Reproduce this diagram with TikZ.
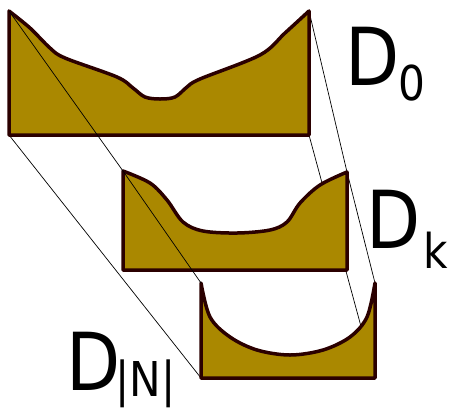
\documentclass[tikz,border=0pt]{standalone}
\usepackage{fontspec}
\newfontfamily\lblfont{DejaVu Sans}[FakeStretch=0.88]
\definecolor{slabfill}{HTML}{AA8800}
\definecolor{slabline}{HTML}{2B0000}
\begin{document}
\begin{tikzpicture}[x=1pt,y=-1pt,
  slab/.style={fill=slabfill, draw=slabline, line width=3.5pt, line join=round},
  guide/.style={draw=black, line width=0.7pt},
  biglbl/.style={inner sep=0pt, anchor=base west, font=\lblfont\fontsize{80}{80}\selectfont},
  sublbl/.style={inner sep=0pt, anchor=base west, font=\lblfont\fontsize{48}{48}\selectfont}]
\useasboundingbox (0,0) rectangle (449,408);
% corners
\coordinate (a0tl) at (9,11);
\coordinate (a0bl) at (9,135);
\coordinate (a0tr) at (309,11);
\coordinate (a0br) at (309,135);
\coordinate (aktl) at (123,171);
\coordinate (akbl) at (123,270);
\coordinate (aktr) at (347,172);
\coordinate (akbr) at (347,270);
\coordinate (antl) at (201,283);
\coordinate (anbl) at (201,378);
\coordinate (antr) at (375,283);
\coordinate (anbr) at (375,378);
% guides behind
\draw[guide] (a0tr) -- (aktr) -- (antr);
\draw[guide] (a0br) -- (anbr);
\draw[guide] (a0bl) -- (anbl);
% D0
\draw[slab] (a0br) -- (a0bl)
  -- plot[smooth, tension=0.55] coordinates {(9,11) (30,28) (50,48) (65,58) (117,77) (133,88) (145,97) (160,99) (175,97) (187,87) (200,79) (260,55) (285,33) (309,11)}
  -- cycle;
% Dk
\draw[slab] (akbr) -- (akbl)
  -- plot[smooth, tension=0.55] coordinates {(123,171) (150,183) (167,200) (183,222) (203,231) (237,233) (270,230) (287,222) (300,203) (320,185) (347,172)}
  -- cycle;
% DN
\draw[slab] (anbr) -- (anbl)
  -- plot[smooth, tension=0.55] coordinates {(201,283) (210,317) (230,337) (257,350) (290,355) (323,350) (350,337) (367,317) (375,283)}
  -- cycle;
% guide in front
\draw[guide] (a0tl) -- (aktl) -- (antl);
% labels
\node[biglbl] (l0) at (345,85) {D};
\node[sublbl] (s0) at (398,100) {0};
\node[biglbl] (lk) at (366,248) {D};
\node[sublbl] (sk) at (423,268) {k};
\node[biglbl] (ln) at (66,390) {D};
\node[sublbl] (sn) at (115,396) {|N|};
\end{tikzpicture}
\end{document}
